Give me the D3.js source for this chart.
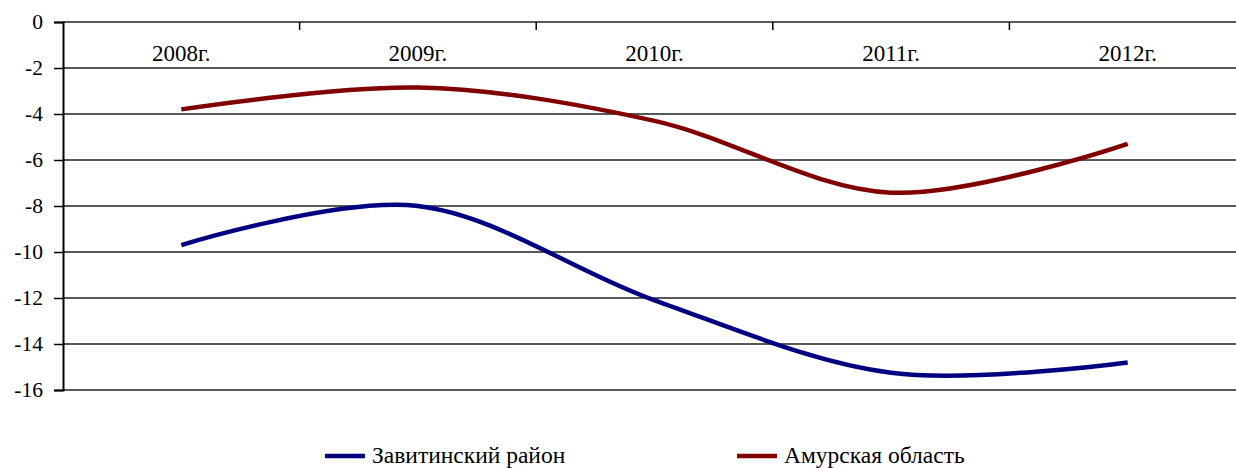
<!DOCTYPE html>
<html>
<head>
<meta charset="utf-8">
<script src="https://cdn.jsdelivr.net/npm/d3@7/dist/d3.min.js"></script>
<style>
  body { margin: 0; background: #fff; }
  #chart text { font-family: 'Liberation Serif', 'Times New Roman', serif; }
</style>
</head>
<body>
<svg id="chart" width="1236" height="468" font-family="Liberation Serif"></svg>
<script>
var years = ["2008г.", "2009г.", "2010г.", "2011г.", "2012г."];
var zavitinsky = [-9.7, -8.0, -12.1, -15.25, -14.8];
var amur = [-3.8, -2.85, -4.3, -7.42, -5.3];
var yTicks = [0, -2, -4, -6, -8, -10, -12, -14, -16];
var seriesNames = ["Завитинский район", "Амурская область"];
var seriesColors = ["#000080", "#800000"];

var svg = d3.select("#chart"),
    margin = {top: 22, left: 63},
    plotRight = 1246,
    plotBottom = 390;

var x = d3.scaleBand().domain(years).range([margin.left, plotRight]).paddingInner(0).paddingOuter(0);
var y = d3.scaleLinear().domain([-16, 0]).range([plotBottom, margin.top]);

// horizontal gridlines
svg.append("g")
  .selectAll("line")
  .data(yTicks)
  .enter().append("line")
    .attr("x1", margin.left)
    .attr("x2", plotRight)
    .attr("y1", function(d) { return y(d); })
    .attr("y2", function(d) { return y(d); })
    .attr("stroke", "#222")
    .attr("stroke-width", 1.5);

// y axis
var yAxis = svg.append("g")
    .attr("transform", "translate(" + margin.left + ",0)")
    .call(d3.axisLeft(y).tickValues(yTicks).tickSize(9).tickPadding(11)
      .tickFormat(function(d) { return String(d); }));
yAxis.attr("font-family", "Liberation Serif").attr("font-size", 21.5);
yAxis.select(".domain").attr("stroke", "#000").attr("stroke-width", 2);
yAxis.selectAll(".tick line").attr("stroke", "#000").attr("stroke-width", 1.5);
yAxis.selectAll("text").attr("fill", "#000");

// category axis at value 0 (top)
var xAxis = svg.append("g")
    .attr("transform", "translate(0," + y(0) + ")")
    .attr("font-size", 23);
xAxis.selectAll(".cat-tick")
  .data(years.slice(1))
  .enter().append("line")
    .attr("x1", function(d) { return x(d); })
    .attr("x2", function(d) { return x(d); })
    .attr("y1", 0)
    .attr("y2", 8)
    .attr("stroke", "#000")
    .attr("stroke-width", 1.5);
xAxis.selectAll(".cat-label")
  .data(years)
  .enter().append("text")
    .attr("x", function(d) { return x(d) + x.bandwidth() / 2; })
    .attr("y", 39)
    .attr("text-anchor", "middle")
    .text(function(d) { return d; });

// lines
var line = d3.line()
    .x(function(d, i) { return x(years[i]) + x.bandwidth() / 2; })
    .y(function(d) { return y(d); })
    .curve(d3.curveCatmullRom.alpha(0));

[zavitinsky, amur].forEach(function(s, i) {
  svg.append("path")
    .datum(s)
    .attr("fill", "none")
    .attr("stroke", seriesColors[i])
    .attr("stroke-width", 4.5)
    .attr("d", line);
});

// legend
var legendX = [325, 737];
var legend = svg.append("g").attr("font-size", 23.5);
seriesNames.forEach(function(name, i) {
  legend.append("line")
    .attr("x1", legendX[i])
    .attr("x2", legendX[i] + 40)
    .attr("y1", 456)
    .attr("y2", 456)
    .attr("stroke", seriesColors[i])
    .attr("stroke-width", 4.5);
  legend.append("text")
    .attr("x", legendX[i] + 47)
    .attr("y", 463)
    .text(name);
});
</script>
</body>
</html>
